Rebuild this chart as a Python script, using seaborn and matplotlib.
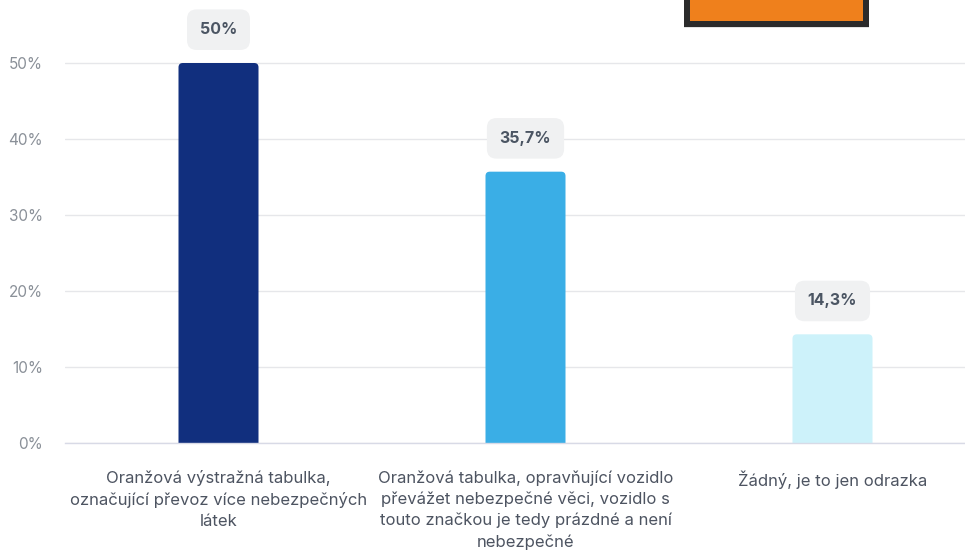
import matplotlib
matplotlib.use("Agg")
import matplotlib.pyplot as plt
from matplotlib.patches import FancyBboxPatch, Rectangle
import seaborn as sns
import pandas as pd

categories = [
    "Oranžová výstražná tabulka,\noznačující převoz více nebezpečných\nlátek",
    "Oranžová tabulka, opravňující vozidlo\npřevážet nebezpečné věci, vozidlo s\ntouto značkou je tedy prázdné a není\nnebezpečné",
    "Žádný, je to jen odrazka",
]
values = [50.0, 35.7, 14.3]
value_labels = ["50%", "35,7%", "14,3%"]
bar_colors = ["#112f7e", "#3aaee6", "#cdf2fa"]
y_ticks = [0, 10, 20, 30, 40, 50]
y_tick_labels = ["0%", "10%", "20%", "30%", "40%", "50%"]

sns.set_theme(style="white")
plt.rcParams["font.family"] = ["Inter", "DejaVu Sans"]

W, H = 965, 554
PX_PER_CAT = 307.0
PX_PER_PCT = 7.6
fig = plt.figure(figsize=(W / 100, H / 100), dpi=100)
ax = fig.add_axes([65 / W, (H - 443) / H, 900 / W, 443 / H])

df = pd.DataFrame({"cat": categories, "val": values})
sns.barplot(data=df, x="cat", y="val", hue="cat", palette=bar_colors,
            legend=False, width=80 / PX_PER_CAT, ax=ax, saturation=1)

ax.set_xlim(-0.5, -0.5 + 900 / PX_PER_CAT)
ax.set_ylim(0, 443 / PX_PER_PCT)

# redraw the bars with softly rounded tops; the bottom is pushed below the
# axis so only the top corners show
aspect = PX_PER_CAT / PX_PER_PCT
for patch, color in zip(list(ax.patches), bar_colors):
    x0, y0 = patch.get_x(), patch.get_y()
    w, h = patch.get_width(), patch.get_height()
    patch.set_visible(False)
    ax.add_patch(FancyBboxPatch((x0, y0 - 2), w, h + 2,
                                boxstyle="round,pad=0,rounding_size=0.014",
                                mutation_aspect=aspect,
                                facecolor=color, edgecolor="none", zorder=2))

ax.set_yticks(y_ticks)
ax.set_yticklabels(y_tick_labels)
ax.yaxis.grid(True, color="#e6e7ea", linewidth=1)
ax.set_axisbelow(True)
for s in ["top", "right", "left"]:
    ax.spines[s].set_visible(False)
ax.spines["bottom"].set_color("#d8dae6")
ax.spines["bottom"].set_linewidth(1)
ax.spines["bottom"].set_zorder(3)
ax.tick_params(axis="y", length=0, pad=16, labelsize=11, labelcolor="#8a9098")
ax.tick_params(axis="x", length=0, pad=19.5, labelsize=12, labelcolor="#4d5461")
for lbl in ax.get_xticklabels():
    lbl.set_linespacing(1.47)
    lbl.set_verticalalignment("top")
ax.set_xlabel("")
ax.set_ylabel("")

for i, (v, t) in enumerate(zip(values, value_labels)):
    ax.annotate(t, (i, v), xytext=(0, 24), textcoords="offset points",
                ha="center", va="center", fontsize=11.5, fontweight="bold",
                color="#4b5563",
                bbox=dict(boxstyle="round,pad=0.8,rounding_size=0.6",
                          facecolor="#f0f1f2", edgecolor="none"))

# orange warning plate in the top-right corner
fig.patches.append(Rectangle((684 / W, (H - 28) / H), 185 / W, 1 / H,
                             transform=fig.transFigure, facecolor="#e4e4e4",
                             edgecolor="none"))
fig.patches.append(Rectangle((684 / W, (H - 27) / H), 185 / W, 27 / H,
                             transform=fig.transFigure, facecolor="#2b2b2b",
                             edgecolor="none"))
fig.patches.append(Rectangle((690 / W, (H - 21) / H), 173 / W, 21 / H,
                             transform=fig.transFigure, facecolor="#ef801c",
                             edgecolor="none"))

fig.savefig("out.png", dpi=100, facecolor="white")
